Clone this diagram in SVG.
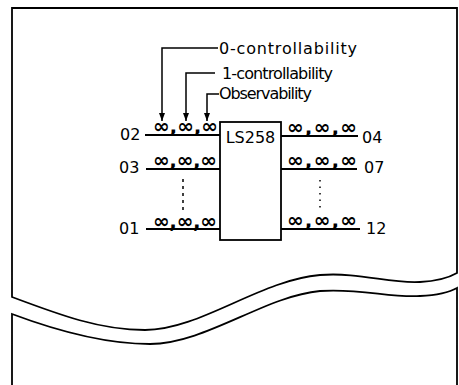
<svg xmlns="http://www.w3.org/2000/svg" width="459" height="385" viewBox="0 0 459 385">
<style>
.ln{stroke:#000;stroke-width:1.8;fill:none}
.thin{stroke:#000;stroke-width:1.5;fill:none}
.lab{font-family:"DejaVu Sans",sans-serif;font-size:16px;fill:#000}
.inf{font-family:"DejaVu Sans",sans-serif;font-size:20px;font-weight:bold;fill:#000}
</style>
<defs>
<marker id="ah" viewBox="0 0 8 6" refX="8" refY="3" markerWidth="8" markerHeight="6" markerUnits="userSpaceOnUse" orient="auto">
<path d="M0,0 L8,3 L0,6 Z" fill="#000"/>
</marker>
</defs>
<rect width="459" height="385" fill="#fff"/>
<g id="sheet">
<path class="ln" d="M12,297 C60,315 100,330 145,330 C200,330 260,280 320,275 C360,272 390,284 420,282 C440,281 450,277 457,273 V8 H12 Z"/>
<path class="ln" d="M12,385 V314 C60,332 105,344 150,344 C205,344 265,296 320,291 C360,288 390,298 420,296 C440,295 450,292 457,288 V385"/>
</g>
<g id="chip">
<rect class="ln" x="220" y="122" width="61" height="118"/>
<text class="lab" x="250.5" y="143" font-size="17" text-anchor="middle">LS258</text>
</g>
<g id="pins-left">
<text class="lab" x="120" y="140">02</text>
<text class="lab" x="119" y="173">03</text>
<text class="lab" x="119" y="234">01</text>
<text class="inf" x="153" y="133" textLength="65" lengthAdjust="spacing">∞,∞,∞</text>
<text class="inf" x="153" y="167" textLength="64" lengthAdjust="spacing">∞,∞,∞</text>
<text class="inf" x="153" y="228" textLength="64" lengthAdjust="spacing">∞,∞,∞</text>
</g>
<g id="pins-right">
<text class="lab" x="362" y="143">04</text>
<text class="lab" x="364" y="173">07</text>
<text class="lab" x="366" y="234">12</text>
<text class="inf" x="287" y="134" textLength="70" lengthAdjust="spacing">∞,∞,∞</text>
<text class="inf" x="287" y="167" textLength="70" lengthAdjust="spacing">∞,∞,∞</text>
<text class="inf" x="287" y="227" textLength="70" lengthAdjust="spacing">∞,∞,∞</text>
</g>
<g id="legend">
<text class="lab" x="219" y="54" textLength="138" lengthAdjust="spacing">0-controllability</text>
<text class="lab" x="222" y="79" textLength="111" lengthAdjust="spacing">1-controllability</text>
<text class="lab" x="219" y="99" textLength="93" lengthAdjust="spacing">Observability</text>
</g>
<g id="connectors">
<line class="ln" x1="145" y1="135" x2="220" y2="135"/>
<line class="ln" x1="146" y1="169" x2="220" y2="169"/>
<line class="ln" x1="146" y1="229" x2="220" y2="229"/>
<line class="ln" x1="281" y1="136" x2="358" y2="136"/>
<line class="ln" x1="281" y1="169" x2="357" y2="169"/>
<line class="ln" x1="281" y1="229" x2="360" y2="229"/>
<line class="thin" x1="183" y1="179" x2="183" y2="212" stroke-dasharray="3,4"/>
<line class="thin" x1="320" y1="180" x2="320" y2="208" stroke-dasharray="1.5,5"/>
<polyline class="thin" points="218,48 162,48 162,121" marker-end="url(#ah)"/>
<polyline class="thin" points="215,73 186,73 186,121" marker-end="url(#ah)"/>
<polyline class="thin" points="219,94 207,94 207,121" marker-end="url(#ah)"/>
</g>
</svg>
